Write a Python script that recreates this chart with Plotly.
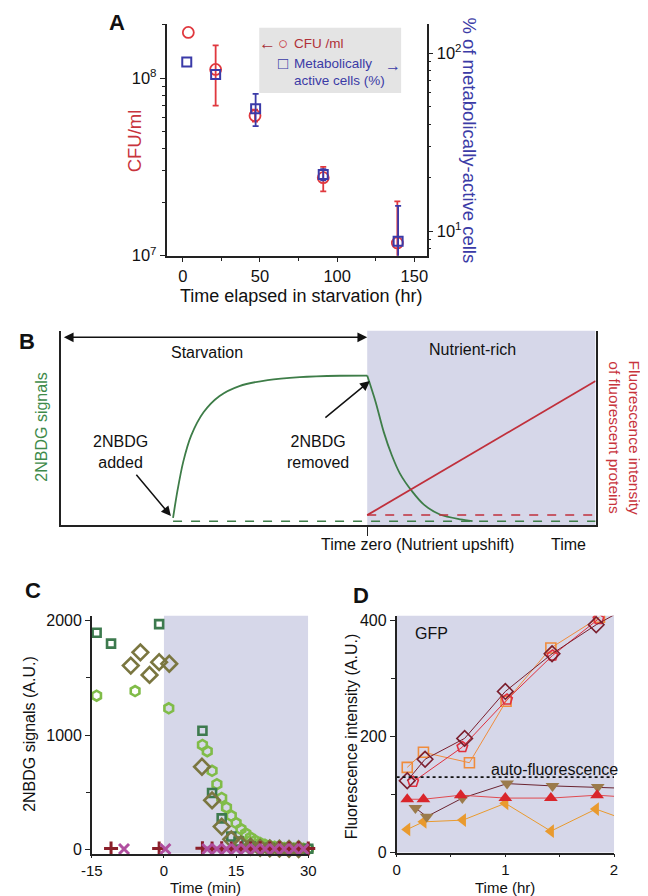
import plotly.graph_objects as go

W, H = 648, 896
FONT = "Liberation Sans, Arial, sans-serif"

# ---------------- Panel A data ----------------
a_time_cfu = [3.6, 21.3, 46.8, 91.0, 139.0]
a_cfu = [1.81e8, 1.12e8, 6.15e7, 2.75e7, 1.18e7]
a_cfu_err_plus = [None, 4.1e7, 0.5e7, 0.41e7, 0.84e7]
a_cfu_err_minus = [None, 4.2e7, 0.45e7, 0.45e7, 0.35e7]
a_time_met = [2.6, 21.3, 47.2, 91.0, 139.5]
a_met = [89.5, 76.2, 48.9, 20.8, 8.77]
a_met_err_plus = [None, None, 10.3, 1.5, 5.1]
a_met_err_minus = [None, None, 9.9, 1.5, 2.0]
a_xticks = [0, 50, 100, 150]

# ---------------- Panel B (schematic, arbitrary units) ----------------
b_t_zero = 57.3
b_rise_x = [21.0, 21.8, 22.9, 24.4, 26.7, 29.7, 33.4, 38.7, 44.7, 52.2, 57.3]
b_rise_y = [3.7, 17.3, 32.5, 46.1, 58.0, 66.4, 71.5, 74.6, 76.1, 76.8, 76.9]
b_decay_x = [57.3, 58.9, 60.4, 61.9, 63.4, 65.7, 67.9, 70.9, 74.7, 77.0]
b_decay_y = [76.9, 63.1, 47.8, 35.9, 26.6, 17.3, 10.5, 5.4, 2.9, 2.0]
b_green_base_x = [21.0, 100.0]
b_green_base_y = [2.0, 2.0]
b_red_base_x = [57.3, 100.0]
b_red_base_y = [5.1, 5.1]
b_red_x = [57.3, 100.0]
b_red_y = [5.1, 74.1]

# ---------------- Panel C data ----------------
c_sq_t = [-14.0, -11.0, -1.0, 8.0, 10.0, 12.0, 14.0, 15.5, 18.0, 22.0, 26.0, 30.0]
c_sq_v = [1895, 1800, 1970, 1038, 495, 273, 115, 70, 30, 15, 10, 8]
c_dia_t = [-6.9, -4.9, -3.0, -1.0, 1.1, 7.9, 10.0, 12.0, 14.0, 16.0, 18.0, 20.0, 22.0, 24.0, 26.0, 28.0]
c_dia_v = [1608, 1724, 1526, 1638, 1624, 724, 431, 201, 90, 45, 25, 15, 10, 8, 6, 5]
c_hex_t = [-14.0, -6.0, 1.0, 8, 9, 10, 11, 12, 13, 14, 15, 16, 17, 18, 19, 20, 21, 22,
           23, 24, 25, 26, 27, 28, 29, 30]
c_hex_v = [1345, 1385, 1235, 915, 860, 688, 572, 452, 368, 295, 232, 180, 140, 105, 78,
           57, 42, 31, 24, 18, 14, 11, 9, 8, 7, 6]
c_plus_t = [-11.0, -1.0, 8, 10, 12, 14, 16, 18, 20, 22, 24, 26, 28, 30]
c_plus_v = [10, 10, 12, 10, 12, 10, 12, 10, 12, 10, 12, 10, 12, 10]
c_x_t = [-8.3, 0.3, 9, 11, 13, 15, 17, 19, 21, 23, 25, 27, 29]
c_x_v = [5, 5, 5, 5, 5, 5, 5, 5, 5, 5, 5, 5, 5]

# ---------------- Panel D data ----------------
d_t_sq = [0.098, 0.247, 0.67, 1.007, 1.419, 1.866]
d_sq = [147, 173, 155, 261, 353, 406]
d_t_dia = [0.098, 0.262, 0.626, 1.0, 1.43, 1.836, 2.25]
d_dia = [124, 161, 197, 278, 343, 393, 436]
d_t_pent = [0.152, 0.605, 1.016, 1.434, 1.857]
d_pent = [122, 182, 264, 340, 403]
d_t_up = [0.098, 0.247, 0.59, 1.0, 1.419, 1.844, 2.25]
d_up = [92, 92, 99, 94, 94, 99, 94]
d_t_down = [0.173, 0.277, 0.605, 1.016, 1.434, 1.85, 2.25]
d_down = [77, 62, 94, 119, 115, 113, 110]
d_t_left = [0.098, 0.247, 0.61, 1.0, 1.419, 1.833, 2.25]
d_left = [40, 53, 56, 85, 37, 75, 47]
d_auto_fluor = 130

SHADE = "#d6d7e9"
AX = "#222222"

# panel A placement (pixels)
A_L, A_R = 152, 420


def ax_px(z):
    """convert a horizontal position measured in panel-A units to pixels"""
    return A_L + (z - 440) * (A_R - A_L) / 682.0


def px(x):
    return x / W


def py(y):
    return 1 - y / H


def with_err(xs, ys, ep, em):
    idx = [i for i in range(len(xs)) if ep[i] is not None]
    return ([xs[i] for i in idx], [ys[i] for i in idx],
            [ep[i] for i in idx], [em[i] for i in idx])


fig = go.Figure()

# ---- Panel A traces ----
RED_M = "#e0383e"
BLUE_M = "#3a3aa8"
ex, ey, ep, em = with_err(a_time_cfu, a_cfu, a_cfu_err_plus, a_cfu_err_minus)
fig.add_trace(go.Scatter(
    x=ex, y=ey, mode="markers", xaxis="x", yaxis="y", marker=dict(size=1, opacity=0),
    error_y=dict(type="data", array=ep, arrayminus=em, color=RED_M, thickness=1.8, width=3),
))
ex, ey, ep, em = with_err(a_time_met, a_met, a_met_err_plus, a_met_err_minus)
fig.add_trace(go.Scatter(
    x=ex, y=ey, mode="markers", xaxis="x", yaxis="y2", marker=dict(size=1, opacity=0),
    error_y=dict(type="data", array=ep, arrayminus=em, color=BLUE_M, thickness=1.8, width=3),
))
fig.add_trace(go.Scatter(
    x=a_time_cfu, y=a_cfu, mode="markers", xaxis="x", yaxis="y",
    marker=dict(symbol="circle-open", size=11, color=RED_M, line=dict(width=1.8, color=RED_M)),
))
fig.add_trace(go.Scatter(
    x=a_time_met, y=a_met, mode="markers", xaxis="x", yaxis="y2",
    marker=dict(symbol="square-open", size=9, color=BLUE_M, line=dict(width=2, color=BLUE_M)),
))

# ---- Panel B traces ----
fig.add_trace(go.Scatter(x=b_rise_x, y=b_rise_y, mode="lines", xaxis="x3", yaxis="y3",
                         line=dict(color="#3e7d48", width=1.8, shape="spline", smoothing=0.8)))
fig.add_trace(go.Scatter(x=b_decay_x, y=b_decay_y, mode="lines", xaxis="x3", yaxis="y3",
                         line=dict(color="#3e7d48", width=1.8, shape="spline", smoothing=0.8)))
fig.add_trace(go.Scatter(x=b_green_base_x, y=b_green_base_y, mode="lines", xaxis="x3", yaxis="y3",
                         line=dict(color="#3e7d48", width=1.5, dash="dash")))
fig.add_trace(go.Scatter(x=b_red_base_x, y=b_red_base_y, mode="lines", xaxis="x3", yaxis="y3",
                         line=dict(color="#c0303c", width=1.5, dash="dash")))
fig.add_trace(go.Scatter(x=b_red_x, y=b_red_y, mode="lines", xaxis="x3", yaxis="y3",
                         line=dict(color="#c0303c", width=1.8)))

# ---- Panel C traces ----
c_common = dict(mode="markers", xaxis="x4", yaxis="y4", cliponaxis=False)
fig.add_trace(go.Scatter(x=c_hex_t, y=c_hex_v, **c_common,
                         marker=dict(symbol="hexagon-open", size=10, color="#80bc48",
                                     line=dict(width=2.6, color="#80bc48"))))
fig.add_trace(go.Scatter(x=c_sq_t, y=c_sq_v, **c_common,
                         marker=dict(symbol="square-open", size=8, color="#3d7a4e",
                                     line=dict(width=2.6, color="#3d7a4e"))))
fig.add_trace(go.Scatter(x=c_dia_t, y=c_dia_v, **c_common,
                         marker=dict(symbol="diamond-open", size=12, color="#7a7640",
                                     line=dict(width=2.6, color="#7a7640"))))
fig.add_trace(go.Scatter(x=c_plus_t, y=c_plus_v, **c_common,
                         marker=dict(symbol="cross-thin-open", size=10, color="#8b1f2a",
                                     line=dict(width=3, color="#8b1f2a"))))
fig.add_trace(go.Scatter(x=c_x_t, y=c_x_v, **c_common,
                         marker=dict(symbol="x-thin-open", size=10, color="#b04f9f",
                                     line=dict(width=3, color="#b04f9f"))))


# ---- Panel D traces ----
def d_trace(x, y, symbol, size, mcolor, lcolor, filled):
    mk = dict(symbol=symbol, size=size, color=mcolor)
    if not filled:
        mk["line"] = dict(width=1.6, color=mcolor)
    return go.Scatter(x=x, y=y, mode="lines+markers", xaxis="x5", yaxis="y5",
                      line=dict(color=lcolor, width=1), marker=mk)


fig.add_trace(d_trace(d_t_left, d_left, "triangle-left", 12, "#e99a2e", "#e99a2e", True))
fig.add_trace(d_trace(d_t_down, d_down, "triangle-down", 12, "#9b7b4b", "#6a2430", True))
fig.add_trace(d_trace(d_t_up, d_up, "triangle-up", 12, "#d9252b", "#e04a50", True))
fig.add_trace(d_trace(d_t_sq, d_sq, "square-open", 10, "#f08c3c", "#f08c3c", False))
fig.add_trace(d_trace(d_t_pent, d_pent, "pentagon-open", 11, "#e0303e", "#e0303e", False))
fig.add_trace(d_trace(d_t_dia, d_dia, "diamond-open", 12, "#7b1f2e", "#7b1f2e", False))
fig.add_trace(go.Scatter(x=[0, 2], y=[d_auto_fluor, d_auto_fluor], mode="lines", xaxis="x5", yaxis="y5",
                         line=dict(color="#111111", width=1.8, dash="dot")))

# ---- axes ----
base_ax = dict(showgrid=False, zeroline=False, showline=True, linecolor=AX, linewidth=1.5,
               ticks="outside", tickcolor=AX, ticklen=5, tickwidth=1.3,
               tickfont=dict(family=FONT, size=16, color="#111"))
A_TICKFONT = dict(family=FONT, size=16.5, color="#111")
CD_XTICKFONT = dict(family=FONT, size=15, color="#111")

lay = dict(
    width=W, height=H, autosize=False, margin=dict(l=0, r=0, t=0, b=0),
    paper_bgcolor="white", plot_bgcolor="white", showlegend=False,
    font=dict(family=FONT, color="#111"),
)
lay["xaxis"] = dict(base_ax, domain=[px(A_L), px(A_R)], anchor="y", range=[-10.5, 158],
                    tickvals=a_xticks, tickfont=A_TICKFONT,
                    minor=dict(tickvals=[25, 75, 125], ticks="outside", ticklen=4, tickcolor=AX))
lay["yaxis"] = dict(base_ax, domain=[py(248), py(13)], anchor="x", type="log", range=[7, 8.306],
                    tickvals=[1e7, 1e8], ticktext=["10<sup>7</sup>", "10<sup>8</sup>"],
                    tickfont=A_TICKFONT,
                    minor=dict(tickvals=[k * 1e7 for k in range(2, 10)] + [2e8],
                               ticks="outside", ticklen=3, tickcolor=AX))
lay["yaxis2"] = dict(base_ax, overlaying="y", side="right", anchor="x", type="log",
                     range=[0.861, 2.167], tickvals=[10, 100],
                     ticktext=["10<sup>1</sup>", "10<sup>2</sup>"],
                     tickfont=A_TICKFONT,
                     minor=dict(tickvals=[8, 9] + [k * 10 for k in range(2, 10)],
                                ticks="outside", ticklen=3, tickcolor=AX))
lay["xaxis3"] = dict(base_ax, domain=[px(43), px(594)], anchor="y3", range=[0, 100],
                     tickvals=[b_t_zero], showticklabels=False, ticklen=9)
lay["yaxis3"] = dict(base_ax, domain=[py(521), py(324)], anchor="x3", range=[0, 100],
                     mirror=True, ticks="", showticklabels=False)
lay["xaxis4"] = dict(base_ax, domain=[px(75), px(298)], anchor="y4", range=[-15, 30],
                     tickvals=[-15, 0, 15, 30], ticktext=["-15", "0", "15", "30"],
                     ticklen=3, tickfont=CD_XTICKFONT)
lay["yaxis4"] = dict(base_ax, domain=[py(854), py(613)], anchor="x4", range=[-34.5, 2043],
                     tickvals=[0, 1000, 2000],
                     minor=dict(tickvals=[500, 1500], ticks="outside", ticklen=4, tickcolor=AX))
lay["xaxis5"] = dict(base_ax, domain=[px(389), px(613)], anchor="y5", range=[0, 2],
                     tickvals=[0, 1, 2], ticklen=3, tickfont=CD_XTICKFONT,
                     minor=dict(tickvals=[0.5, 1.5], ticks="outside", ticklen=3, tickcolor=AX))
lay["yaxis5"] = dict(base_ax, domain=[py(853), py(613)], anchor="x5", range=[0, 408.5],
                     tickvals=[0, 200, 400],
                     minor=dict(tickvals=[100, 300], ticks="outside", ticklen=4, tickcolor=AX))
fig.update_layout(**lay)

# ---- shapes ----
shapes = [
    dict(type="rect", xref="x3", yref="y3 domain", x0=b_t_zero, x1=100, y0=0, y1=1,
         fillcolor=SHADE, line=dict(width=0), layer="below"),
    dict(type="rect", xref="x4", yref="y4 domain", x0=0, x1=30, y0=0, y1=1,
         fillcolor=SHADE, line=dict(width=0), layer="below"),
    dict(type="rect", xref="x5 domain", yref="y5 domain", x0=0, x1=1, y0=0, y1=1,
         fillcolor=SHADE, line=dict(width=0), layer="below"),
    dict(type="rect", xref="paper", yref="paper", x0=px(ax_px(683)), x1=px(ax_px(1055)),
         y0=py(83), y1=py(17), fillcolor="#e4e4e4", line=dict(width=0), layer="below"),
]
fig.update_layout(shapes=shapes)


def txt(x, y, s, size=16, color="#111", angle=0, bold=False, xanchor="center", yanchor="middle"):
    if bold:
        s = "<b>" + s + "</b>"
    return dict(x=px(x), y=py(y), xref="paper", yref="paper", text=s, showarrow=False,
                font=dict(family=FONT, size=size, color=color), textangle=angle,
                xanchor=xanchor, yanchor=yanchor)


RED = "#c8343c"
BLUE = "#3b3ba6"
GREEN = "#3e8a4a"
ann = [
    # panel letters
    txt(ax_px(310), 12, "A", 22, bold=True),
    txt(8, 335, "B", 22, bold=True),
    txt(14, 587, "C", 22, bold=True),
    txt(352, 592, "D", 22, bold=True),
    # panel A
    txt(ax_px(355), 132, "CFU/ml", 18.5, RED, angle=-90),
    txt(ax_px(1235), 131, "% of metabolically-active cells", 18.5, BLUE, angle=90),
    txt(ax_px(792), 289, "Time elapsed in starvation (hr)", 18),
    txt(ax_px(705), 33, "\u2190", 17, "#a8303a"),
    txt(ax_px(745), 33, "\u25cb", 17, "#c8343c"),
    txt(ax_px(770), 33, "CFU /ml", 13.5, "#b03038", xanchor="left"),
    txt(ax_px(745), 53, "\u25a1", 17, BLUE),
    txt(ax_px(768), 53, "Metabolically", 13.5, BLUE, xanchor="left"),
    txt(ax_px(768), 70, "active cells (%)", 13.5, BLUE, xanchor="left"),
    txt(ax_px(1033), 55, "\u2192", 16, BLUE),
    # panel B
    txt(194, 346, "Starvation", 16),
    txt(467, 343, "Nutrient-rich", 16),
    txt(105, 447, "2NBDG<br>added", 16),
    txt(308, 447, "2NBDG<br>removed", 16),
    txt(411, 541, "Time zero (Nutrient upshift)", 16),
    txt(566, 541, "Time", 16),
    txt(23, 422, "2NBDG signals", 16, GREEN, angle=-90),
    txt(624, 432, "Fluorescence intensity<br>of fluorescent proteins", 15.5, RED, angle=90),
    # panel C
    txt(11, 733, "2NBDG signals (A.U.)", 16, angle=-90),
    txt(192, 888, "Time (min)", 15),
    # panel D
    txt(425, 631, "GFP", 16),
    txt(552, 769, "auto-fluorescence", 16),
    txt(342, 735, "Fluorescence intensity (A.U.)", 16, angle=-90),
    txt(501, 888, "Time (hr)", 15),
]
arrow_common = dict(xref="x3", yref="y3", axref="x3", ayref="y3", text="", showarrow=True,
                    arrowhead=2, arrowsize=1.3, arrowwidth=1.5, arrowcolor="#111")
ann += [
    dict(arrow_common, x=b_t_zero, y=96.6, ax=0.3, ay=96.6, arrowside="end+start"),
    dict(arrow_common, x=20.6, y=4.6, ax=13.9, ay=26.6),
    dict(arrow_common, x=57.8, y=74.1, ax=49.2, ay=54.6),
]
fig.update_layout(annotations=ann)

fig.write_html("out.html")
